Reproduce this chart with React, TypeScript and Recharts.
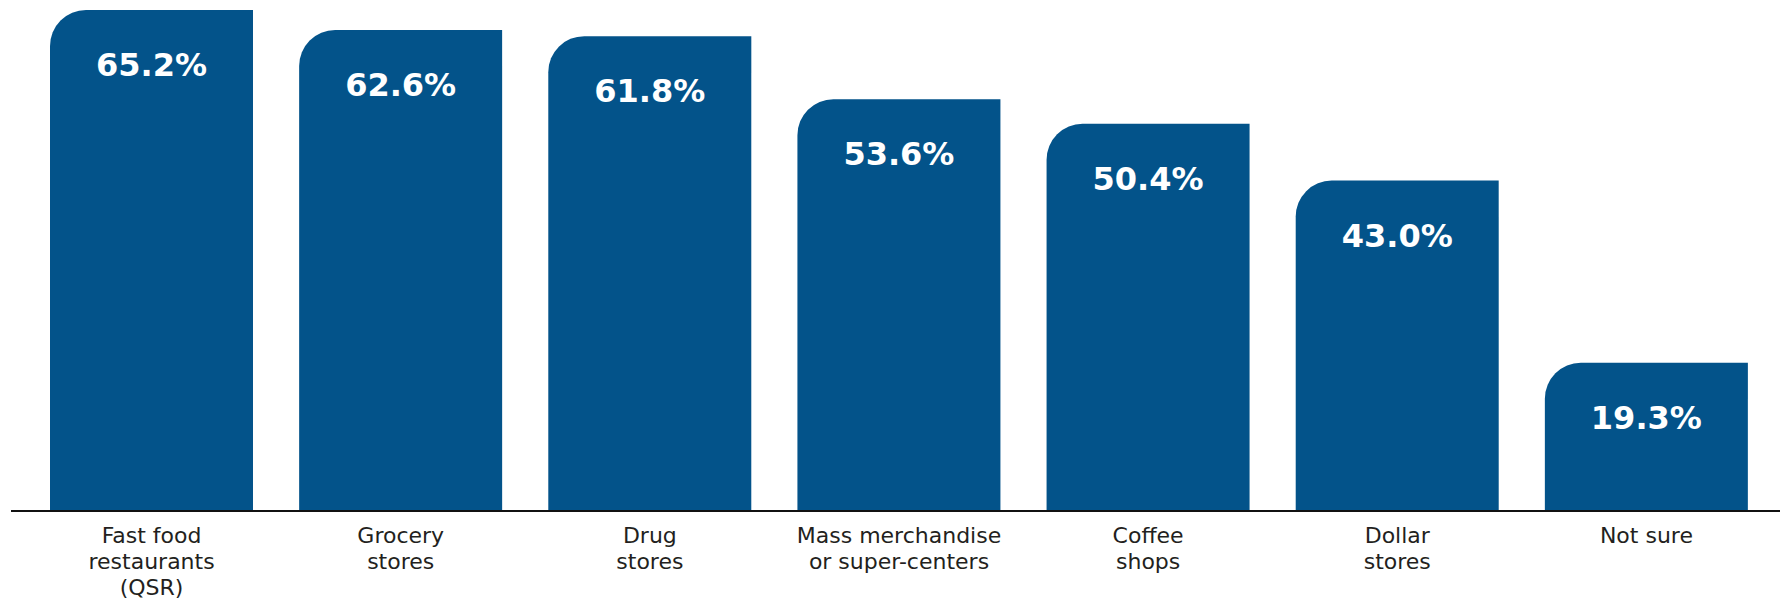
import { BarChart, Bar, XAxis, YAxis, LabelList } from 'recharts';

// category names, "\n" marks where the printed label wraps
const categories = [
  'Fast food\nrestaurants\n(QSR)',
  'Grocery\nstores',
  'Drug\nstores',
  'Mass merchandise\nor super-centers',
  'Coffee\nshops',
  'Dollar\nstores',
  'Not sure',
];
const shares = [65.2, 62.6, 61.8, 53.6, 50.4, 43.0, 19.3];

const data = categories.map((name, i) => ({ name, value: shares[i] }));

const BLUE = '#03538A';
const FONT = '"DejaVu Sans", "Noto Sans", sans-serif';

const CategoryTick = (props: any) => {
  const { x, y, payload } = props;
  const lines = String(payload.value).split('\n');
  return (
    <text x={x} y={y} textAnchor='middle' fill='#231F20' fontFamily={FONT} fontSize={22}>
      {lines.map((l, i) => (
        <tspan key={i} x={x} dy={i === 0 ? 24 : 26}>
          {l}
        </tspan>
      ))}
    </text>
  );
};

const ValueLabel = (props: any) => {
  const { x, y, width, value } = props;
  return (
    <text x={x + width / 2} y={y + 66} textAnchor='middle' fill='#fff' fontFamily={FONT} fontSize={32} fontWeight={700}>
      {`${Number(value).toFixed(1)}%`}
    </text>
  );
};

const App: React.FC = () => {
  return (
    <div style={{ position: 'absolute', left: 0, top: 0, background: '#fff' }}>
      <BarChart width={1782} height={604} data={data} margin={{ top: 10, right: 2, bottom: 0, left: 11 }} barSize={203}>
        <YAxis hide domain={[0, 65.2]} />
        <XAxis
          dataKey='name'
          height={93}
          interval={0}
          padding={{ left: 16, right: 9 }}
          axisLine={{ stroke: '#111', strokeWidth: 2 }}
          tickLine={false}
          tick={<CategoryTick />}
        />
        <Bar dataKey='value' fill={BLUE} radius={[36, 0, 0, 0]} isAnimationActive={false}>
          <LabelList dataKey='value' content={<ValueLabel />} />
        </Bar>
      </BarChart>
    </div>
  );
};

export default App;
